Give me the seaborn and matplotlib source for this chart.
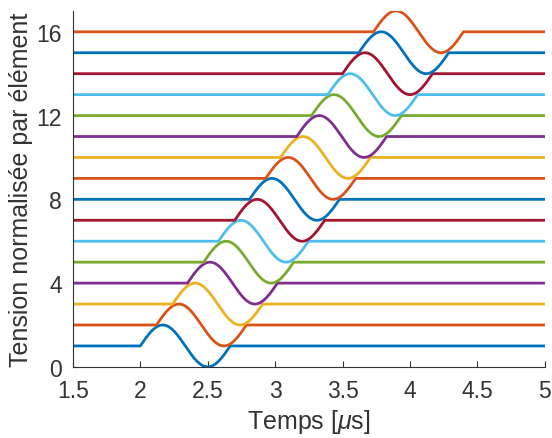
import numpy as np
import pandas as pd
import seaborn as sns
import matplotlib.pyplot as plt

# element offsets and pulse start times (us)
elements = list(range(1, 17))
start_times = [2.00, 2.12, 2.24, 2.35, 2.47, 2.58, 2.70, 2.81,
               2.93, 3.04, 3.16, 3.27, 3.39, 3.50, 3.62, 3.73]
period = 0.667  # one cycle of the tone burst, us
t = np.linspace(1.5, 5.0, 1401)

matlab_colors = ['#0072BD', '#D95319', '#EDB120', '#7E2F8E',
                 '#77AC30', '#4DBEEE', '#A2142F']
palette = [matlab_colors[(e - 1) % 7] for e in elements]

rows = []
for e, t0 in zip(elements, start_times):
    inside = (t >= t0) & (t <= t0 + period)
    v = e + np.where(inside, np.sin(2 * np.pi * (t - t0) / period), 0.0)
    rows.append(pd.DataFrame({'t': t, 'v': v, 'element': e}))
df = pd.concat(rows)

sns.set_style('ticks')
plt.rcParams['font.family'] = ['Liberation Sans', 'DejaVu Sans']
plt.rcParams['mathtext.fontset'] = 'custom'
plt.rcParams['mathtext.it'] = 'Liberation Sans:italic'
plt.rcParams['mathtext.rm'] = 'Liberation Sans'
grey = '#333333'

fig = plt.figure(figsize=(5.52, 4.39), dpi=100)
ax = fig.add_axes([0.132, 0.162, 0.855, 0.811])
sns.lineplot(data=df, x='t', y='v', hue='element', palette=palette,
             linewidth=2, legend=False, ax=ax)

ax.set_xlim(1.5, 5)
ax.set_ylim(0, 17)
ax.set_xticks([1.5, 2, 2.5, 3, 3.5, 4, 4.5, 5])
ax.set_xticklabels(['1.5', '2', '2.5', '3', '3.5', '4', '4.5', '5'])
ax.set_yticks([0, 4, 8, 12, 16])
ax.set_xlabel(r'Temps [$\mu$s]', fontsize=18, color=grey, labelpad=3)
ax.set_ylabel('Tension normalisée par élément', fontsize=18, color=grey,
              labelpad=2)
ax.tick_params(direction='in', labelsize=16.5, colors=grey, length=4)
ax.tick_params(axis='x', pad=9)
ax.tick_params(axis='y', pad=8)
for s in ['top', 'right']:
    ax.spines[s].set_visible(False)
for s in ['left', 'bottom']:
    ax.spines[s].set_color(grey)
    ax.spines[s].set_linewidth(0.8)

plt.savefig('out.png', dpi=100)
